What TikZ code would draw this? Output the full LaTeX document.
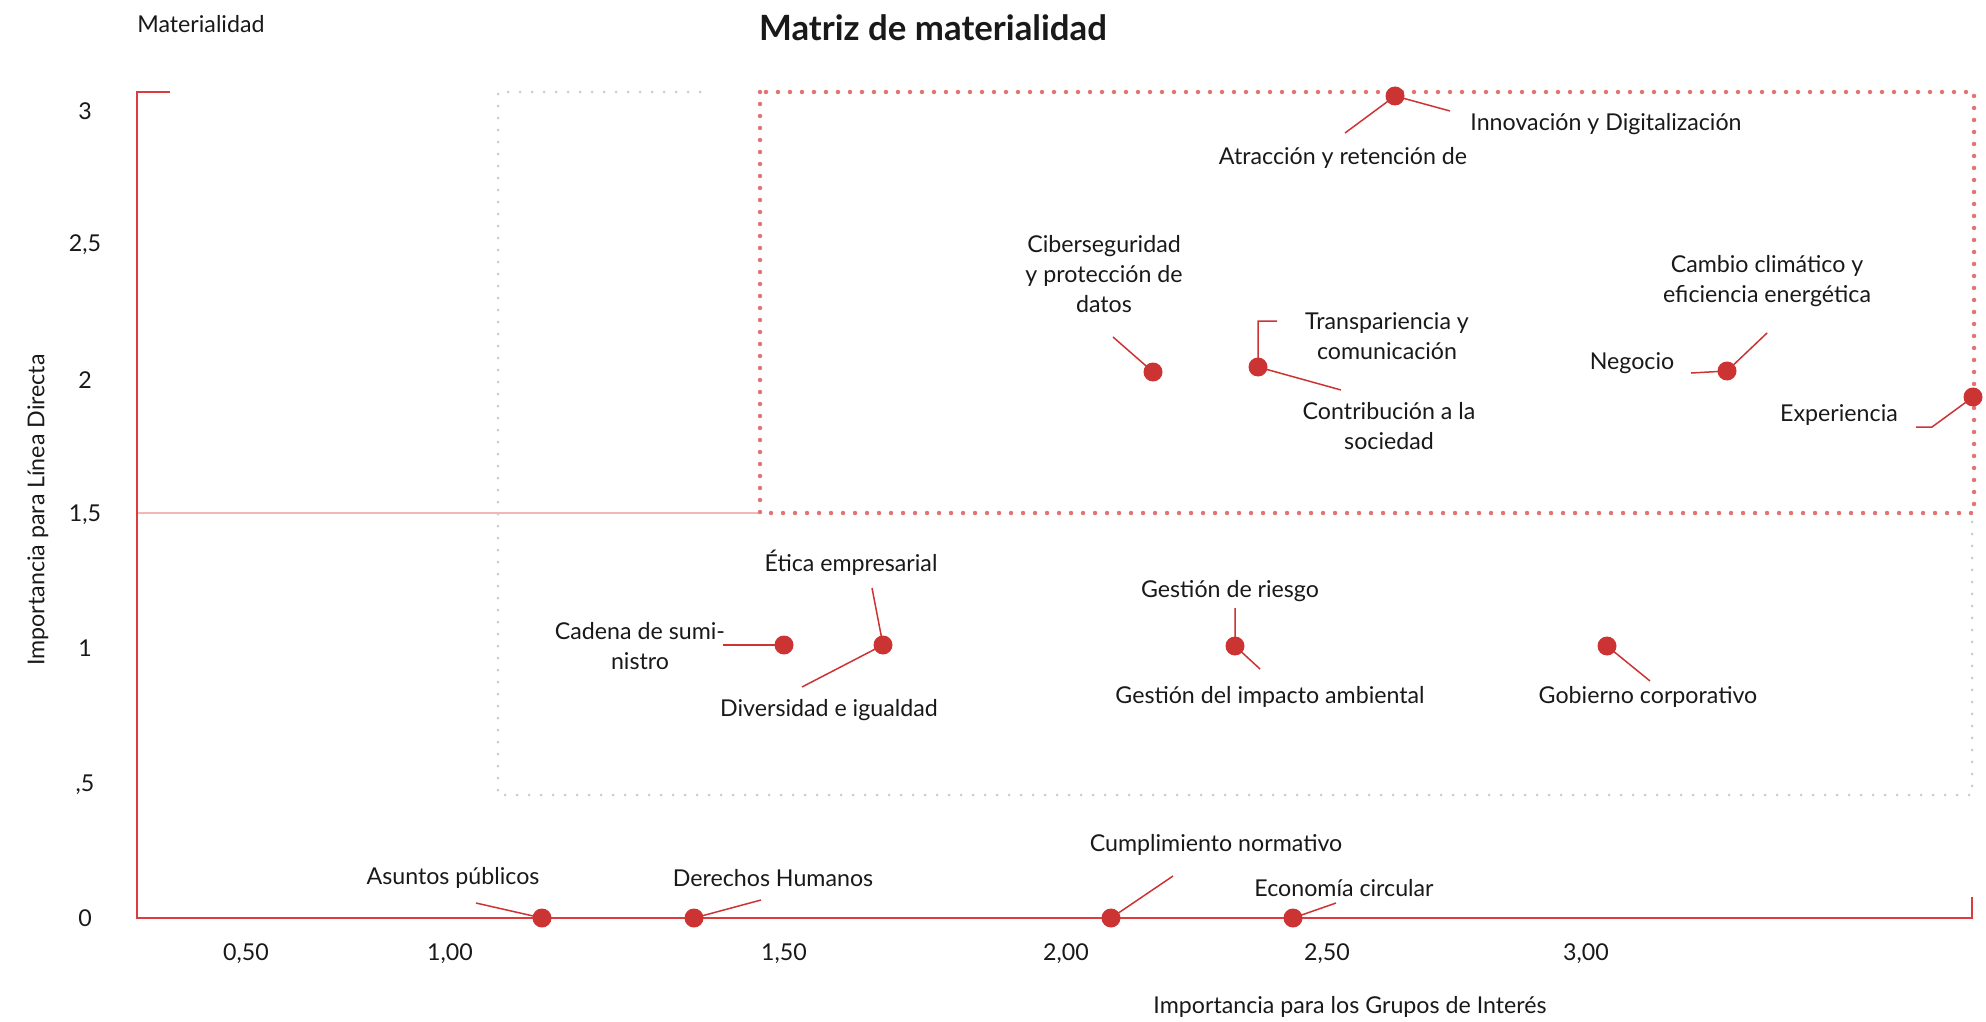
\documentclass[tikz,border=0pt]{standalone}
\usepackage{fontspec}
\setmainfont{Lato}
\usetikzlibrary{positioning,calc}
\definecolor{dotred}{HTML}{CC3333}
\definecolor{axisred}{HTML}{DD3B3D}
\definecolor{boxred}{HTML}{E27474}
\definecolor{boxgray}{HTML}{CCCCCC}
\definecolor{linepink}{HTML}{F2B8B8}

\tikzset{
  dot/.style={circle, fill=dotred, inner sep=0pt, minimum size=3.8mm},
  leader/.style={dotred, line width=0.3mm},
  lbl/.style={font=\fontsize{13.2}{17}\selectfont, align=center, inner sep=0pt, text=black!90},
  ticklbl/.style={lbl},
  redbox/.style={boxred, line width=0.9mm, line cap=round, dash pattern=on 0pt off 2.4mm},
  graybox/.style={boxgray, line width=0.6mm, line cap=round, dash pattern=on 0pt off 2.4mm},
}

\begin{document}
\begin{tikzpicture}[x=0.2mm, y=-0.2mm]
    \useasboundingbox (0,0) rectangle (1986,1022);

    % titles
    \node[lbl, anchor=west] (mat) at (137,24) {Materialidad};
    \node[lbl, font=\fontsize{19.8}{22}\selectfont\bfseries] (title) at (933,28) {Matriz de materialidad};

    % quadrants
    \draw[graybox] (700,92) -- (498,92) -- (498,795) -- (1972,795) -- (1972,513);
    \draw[linepink, line width=0.3mm] (137,513) -- (760,513);
    \draw[redbox] (760,92) rectangle (1974,513);

    % axes
    \draw[axisred, line width=0.5mm] (170,92) -- (137,92) -- (137,918) -- (1972,918) -- (1972,897);

    \node[ticklbl] (y3) at (85,111) {3};
    \node[ticklbl] (y25) at (85,245) {2,5};
    \node[ticklbl] (y2) at (85,380) {2};
    \node[ticklbl] (y15) at (85,515) {1,5};
    \node[ticklbl] (y1) at (85,648) {1};
    \node[ticklbl] (y05) at (85,785) {,5};
    \node[ticklbl] (y0) at (85,918) {0};

    \node[ticklbl] (x050) at (246,954) {0,50};
    \node[ticklbl] (x100) at (450,954) {1,00};
    \node[ticklbl] (x150) at (784,954) {1,50};
    \node[ticklbl] (x200) at (1066,954) {2,00};
    \node[ticklbl] (x250) at (1327,954) {2,50};
    \node[ticklbl] (x300) at (1586,954) {3,00};

    \node[lbl, rotate=90] (ytitle) at (38,510) {Importancia para Línea Directa};
    \node[lbl] (xtitle) at (1350,1007) {Importancia para los Grupos de Interés};

    % leaders
    \coordinate (innovA) at (1345,133);
    \coordinate (innovB) at (1450,111);
    \coordinate (ciberA) at (1113,337);
    \coordinate (transpA) at (1258,321);
    \coordinate (transpB) at (1277,321);
    \coordinate (contribA) at (1341,390);
    \coordinate (cambioA) at (1767,333);
    \coordinate (negocioA) at (1691,373);
    \coordinate (expA) at (1932,427);
    \coordinate (expB) at (1916,427);
    \coordinate (cadenaA) at (723,645);
    \coordinate (eticaA) at (872,588);
    \coordinate (diversA) at (802,687);
    \coordinate (riesgoA) at (1235,608);
    \coordinate (impactoA) at (1260,669);
    \coordinate (gobiernoA) at (1650,681);
    \coordinate (asuntosA) at (476,903);
    \coordinate (derechosA) at (761,900);
    \coordinate (cumplA) at (1173,876);
    \coordinate (econA) at (1336,903);

    \draw[leader] (innovA) -- (1395,96) -- (innovB);
    \draw[leader] (ciberA) -- (1153,372);
    \draw[leader] (transpB) -- (transpA) -- (1258,367) -- (contribA);
    \draw[leader] (cambioA) -- (1727,371) -- (negocioA);
    \draw[leader] (expB) -- (expA) -- (1973,397);
    \draw[leader] (cadenaA) -- (784,645);
    \draw[leader] (eticaA) -- (883,645) -- (diversA);
    \draw[leader] (riesgoA) -- (1235,646) -- (impactoA);
    \draw[leader] (gobiernoA) -- (1607,646);
    \draw[leader] (asuntosA) -- (542,918);
    \draw[leader] (derechosA) -- (694,918);
    \draw[leader] (cumplA) -- (1111,918);
    \draw[leader] (econA) -- (1293,918);

    % topics
    \node[dot] (innov) at (1395,96) {};
    \node[dot] (ciber) at (1153,372) {};
    \node[dot] (transp) at (1258,367) {};
    \node[dot] (cambio) at (1727,371) {};
    \node[dot] (exp) at (1973,397) {};
    \node[dot] (cadena) at (784,645) {};
    \node[dot] (etica) at (883,645) {};
    \node[dot] (riesgo) at (1235,646) {};
    \node[dot] (gobierno) at (1607,646) {};
    \node[dot] (asuntos) at (542,918) {};
    \node[dot] (derechos) at (694,918) {};
    \node[dot] (cumpl) at (1111,918) {};
    \node[dot] (econ) at (1293,918) {};

    \node[lbl] (atraccionL) at (1343,158) {Atracción y retención de};
    \node[lbl] (innovL) at (1606,124) {Innovación y Digitalización};
    \node[lbl] (ciberL) at (1104,274) {Ciberseguridad\\y protección de\\datos};
    \node[lbl] (transpL) at (1387,336) {Transpariencia y\\comunicación};
    \node[lbl] (contribL) at (1389,426) {Contribución a la\\sociedad};
    \node[lbl] (cambioL) at (1767,281) {Cambio climático y\\eficiencia energética};
    \node[lbl] (negocioL) at (1632,363) {Negocio};
    \node[lbl] (expL) at (1839,415) {Experiencia};
    \node[lbl] (cadenaL) at (640,646) {Cadena de sumi-\\nistro};
    \node[lbl] (eticaL) at (851,563) {Ética empresarial};
    \node[lbl] (diversL) at (829,710) {Diversidad e igualdad};
    \node[lbl] (riesgoL) at (1230,591) {Gestión de riesgo};
    \node[lbl] (impactoL) at (1270,697) {Gestión del impacto ambiental};
    \node[lbl] (gobiernoL) at (1648,697) {Gobierno corporativo};
    \node[lbl] (asuntosL) at (453,878) {Asuntos públicos};
    \node[lbl] (derechosL) at (773,878) {Derechos Humanos};
    \node[lbl] (cumplL) at (1216,845) {Cumplimiento normativo};
    \node[lbl] (econL) at (1344,888) {Economía circular};
  \end{tikzpicture}
\end{document}
